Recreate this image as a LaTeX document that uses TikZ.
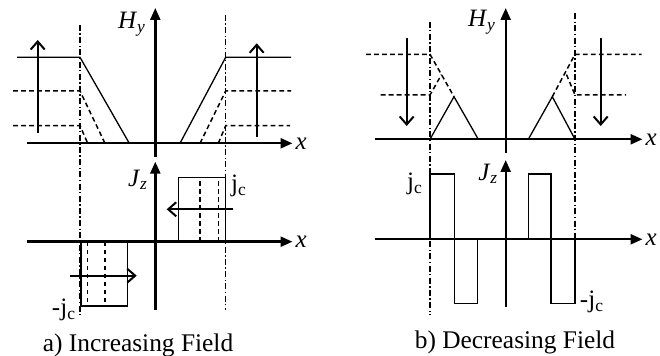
\documentclass[tikz,border=0pt]{standalone}
\usepackage{fontspec}
\setmainfont{Liberation Serif}
\usetikzlibrary{arrows.meta}

\begin{document}
\begin{tikzpicture}[
    x=0.5pt, y=-0.5pt,
    axis/.style={line width=1.2pt, -{Triangle[length=6pt,width=5pt]}},
    prof/.style={line width=0.65pt},
    lvl/.style={line width=0.75pt, dash pattern=on 2.4pt off 1.6pt},
    edge/.style={line width=0.6pt, dash pattern=on 3pt off 1.2pt on 0.7pt off 1.2pt},
    sweep/.style={line width=1pt, -{Straight Barb[length=4pt,width=7pt]}},
    lbl/.style={font=\fontsize{12.5}{14}\selectfont, inner sep=0pt},
    captxt/.style={font=\fontsize{12.7}{15}\selectfont, inner sep=0pt},
  ]
  \useasboundingbox (0,0) rectangle (660,356);

  % ================= panel (a): increasing field
  % slab surfaces
  \draw[edge] (80,25) -- (80,317);
  \draw[edge] (225.7,15) -- (225.7,310);
  % H_y axes
  \draw[axis] (27,143.3) -- (292.5,143.3) node[lbl, right=1pt] (xHa) {\textit{x}};
  \draw[axis] (155.3,157) -- (155.3,8);
  \node[lbl] (Hya) at (132,24) {\textit{H}\textsubscript{\textit{y}}};
  % field profiles
  \draw[prof] (17,57.3) -- (80,57.3) -- (129.3,143.3);
  \draw[prof] (180,143.3) -- (225.7,57.3) -- (291,57.3);
  \draw[lvl] (13,91) -- (80,91) -- (105,143.3);
  \draw[lvl] (13,125.7) -- (80,125.7) -- (87.7,143.3);
  \draw[lvl] (200,143.3) -- (225.7,91) -- (291,91);
  \draw[lvl] (218.3,143.3) -- (225.7,125.7) -- (290,125.7);
  \draw[sweep] (37.7,133) -- (37.7,40);
  \draw[sweep] (256.7,136.7) -- (256.7,43.3);
  % J_z axes
  \draw[axis] (27,241.7) -- (292.5,241.7) node[lbl, right=1pt] (xJa) {\textit{x}};
  \draw[axis] (155.3,310) -- (155.3,161.7);
  \node[lbl] (Jza) at (138,180) {\textit{J}\textsubscript{\textit{z}}};
  % current layers
  \draw[prof] (178.3,241.7) rectangle (225.7,177.3);
  \draw[prof] (81,241.7) rectangle (127.7,306);
  \foreach \x in {200,218.3} { \draw[lvl] (\x,241.7) -- (\x,177.3); }
  \foreach \x in {87.7,105} { \draw[lvl] (\x,241.7) -- (\x,306); }
  \draw[sweep] (233.3,209.3) -- (166.7,209.3);
  \draw[sweep] (70,275.7) -- (136.7,275.7);
  \node[lbl] (jca) at (239,186) {j\textsubscript{c}};
  \node[lbl] (mjca) at (64,310) {-j\textsubscript{c}};
  \node[captxt] (capa) at (138,345) {a) Increasing Field};

  % ================= panel (b): decreasing field
  % slab surfaces
  \draw[edge] (430,21.7) -- (430,315);
  \draw[edge] (575,13.3) -- (575,305);
  % H_y axes
  \draw[axis] (375,139.3) -- (642.5,139.3) node[lbl, right=1pt] (xHb) {\textit{x}};
  \draw[axis] (505.7,153) -- (505.7,8);
  \node[lbl] (Hyb) at (482,22) {\textit{H}\textsubscript{\textit{y}}};
  % field profiles
  \draw[prof] (430,139.3) -- (454,96.7) -- (478.3,139.3);
  \draw[prof] (528.3,139.3) -- (552.3,96.7) -- (575,139.3);
  \draw[lvl] (366,54.3) -- (430,54.3) -- (454,96.7);
  \draw[lvl] (380.7,95) -- (430,95) -- (441.5,74.6);
  \draw[lvl] (552.3,96.7) -- (575,54.3) -- (641.7,54.3);
  \draw[lvl] (566.5,74.6) -- (575,95) -- (626,95);
  \draw[sweep] (406.7,38.3) -- (406.7,126);
  \draw[sweep] (600.7,38.3) -- (600.7,126);
  % J_z axes
  \draw[axis] (375,239.3) -- (642.5,239.3) node[lbl, right=1pt] (xJb) {\textit{x}};
  \draw[axis] (505.7,306.7) -- (505.7,160);
  \node[lbl] (Jzb) at (488.3,174) {\textit{J}\textsubscript{\textit{z}}};
  % current layers
  \draw[prof] (430,239.3) -- (430,174) -- (454.3,174) -- (454.3,303.3) -- (477.3,303.3) -- (477.3,239.3);
  \draw[prof] (528.3,239.3) -- (528.3,174) -- (551,174) -- (551,303.3) -- (575,303.3) -- (575,239.3);
  \node[lbl] (jcb) at (415,184) {j\textsubscript{c}};
  \node[lbl] (mjcb) at (592,302) {-j\textsubscript{c}};
  \node[captxt] (capb) at (515,342) {b) Decreasing Field};
\end{tikzpicture}
\end{document}
